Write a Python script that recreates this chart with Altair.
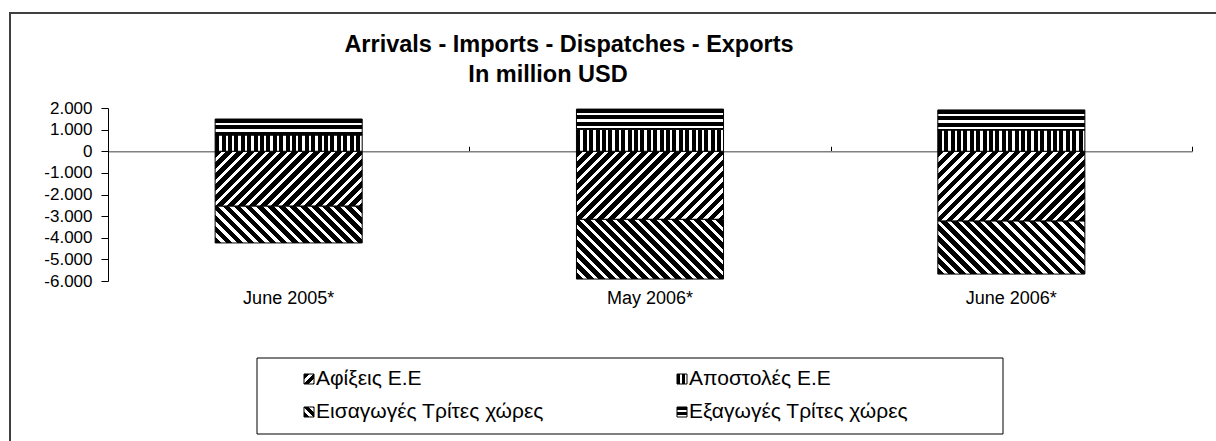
import math
import altair as alt
import pandas as pd

# ---------------- data ----------------
categories = ["June 2005*", "May 2006*", "June 2006*"]
series = ["Αφίξεις Ε.Ε", "Αποστολές  Ε.Ε", "Εισαγωγές Τρίτες χώρες", "Εξαγωγές Τρίτες χώρες"]
arrivals = [-2540, -3150, -3230]      # Αφίξεις Ε.Ε
dispatches = [750, 1010, 980]         # Αποστολές Ε.Ε
imports = [-1700, -2760, -2450]       # Εισαγωγές Τρίτες χώρες
exports = [740, 940, 930]             # Εξαγωγές Τρίτες χώρες
y_ticks = [-6000, -5000, -4000, -3000, -2000, -1000, 0, 1000, 2000]

# ---------------- layout / style ----------------
W, H = 1084, 173
PL, PT = 108, 108
Y_DOMAIN = [-6000, 2000]
BAND_FRAC = 0.407
FONT = "Liberation Sans"
px_per_unit = H / (Y_DOMAIN[1] - Y_DOMAIN[0])
bar_w = W / len(categories) * BAND_FRAC

rows = []
for i, c in enumerate(categories):
    rows.append(dict(cat=c, series=series[0], start=0, end=arrivals[i], kind="up"))
    rows.append(dict(cat=c, series=series[2], start=arrivals[i], end=arrivals[i] + imports[i], kind="down"))
    rows.append(dict(cat=c, series=series[1], start=0, end=dispatches[i], kind="v"))
    rows.append(dict(cat=c, series=series[3], start=dispatches[i], end=dispatches[i] + exports[i], kind="h"))
df = pd.DataFrame(rows)

kind_of = {series[0]: "up", series[1]: "v", series[2]: "down", series[3]: "h"}


def stripes(kind, w, h, period, frac=0.6):
    c = (w + h) / (w * w + h * h)
    if kind == "v":
        x1, y1, x2, y2, L = 0, 0, 1, 0, w
    elif kind == "h":
        x1, y1, x2, y2, L = 0, 0, 0, 1, h
    elif kind == "up":
        x1, y1, x2, y2, L = 0, 0, c * w, c * h, (w + h) / math.sqrt(2)
    else:
        x1, y1, x2, y2, L = 0, 1, c * w, 1 - c * h, (w + h) / math.sqrt(2)
    stops = []
    pos = 0.0
    while pos < L - 1e-6:
        a = pos / L
        b = min((pos + frac * period) / L, 1)
        e = min((pos + period) / L, 1)
        stops += [alt.GradientStop(offset=a, color="#000000"),
                  alt.GradientStop(offset=b, color="#000000"),
                  alt.GradientStop(offset=b, color="#ffffff"),
                  alt.GradientStop(offset=e, color="#ffffff")]
        pos += period
    return alt.LinearGradient(gradient="linear", stops=stops, x1=x1, y1=y1, x2=x2, y2=y2)


PERIOD = {"up": 7.8, "down": 7.8, "v": 6.4, "h": 6.4}
FRAC = {"up": 0.6, "down": 0.6, "v": 0.62, "h": 0.62}

x_scale = alt.Scale(domain=categories, paddingInner=0, paddingOuter=0)
y_enc = alt.Y(
    "start:Q",
    scale=alt.Scale(domain=Y_DOMAIN, nice=False),
    title=None,
    axis=alt.Axis(values=y_ticks, grid=False, domainColor="#000000", tickColor="#000000",
                  tickSize=7, labelPadding=9, labelFont=FONT, labelFontSize=17,
                  labelColor="#000000",
                  labelExpr="datum.value == 0 ? '0' : (datum.value < 0 ? '-' : '') + format(abs(datum.value) / 1000, 'd') + '.000'"),
)

layers = []
for _, r in df.iterrows():
    seg_h = abs(r["end"] - r["start"]) * px_per_unit
    grad = stripes(r["kind"], bar_w, seg_h, PERIOD[r["kind"]], FRAC[r["kind"]])
    sub = df[(df["cat"] == r["cat"]) & (df["series"] == r["series"])]
    layers.append(
        alt.Chart(sub).mark_bar(width=alt.RelativeBandSize(BAND_FRAC), fill=grad,
                                stroke="#000000", strokeWidth=1)
        .encode(x=alt.X("cat:N", scale=x_scale, axis=None), y=y_enc, y2="end:Q")
    )

cat_df = pd.DataFrame({"cat": categories})
# bottom category labels
labels_layer = alt.Chart(cat_df).mark_point(opacity=0).encode(
    x=alt.X("cat:N", scale=x_scale, title=None,
            axis=alt.Axis(orient="bottom", domain=False, ticks=False, labelPadding=8,
                          labelFont=FONT, labelFontSize=18, labelColor="#000000", labelAngle=0))
)
# zero line with category boundary ticks
zero_layer = alt.Chart(cat_df).mark_point(opacity=0).encode(
    x=alt.X("cat:N", scale=x_scale, title=None,
            axis=alt.Axis(orient="top", offset=-(Y_DOMAIN[1] * px_per_unit), labels=False,
                          tickBand="extent", tickSize=5, tickColor="#000000",
                          domainColor="#808080", domainWidth=1.3, grid=False))
)

# title
t1 = alt.Chart(pd.DataFrame({"t": ["Arrivals - Imports - Dispatches - Exports"]})).mark_text(
    font=FONT, fontSize=23.5, fontWeight="bold", align="center", baseline="middle", color="#000000"
).encode(x=alt.value(569 - PL), y=alt.value(45 - PT), text="t:N")
t2 = alt.Chart(pd.DataFrame({"t": ["In million USD"]})).mark_text(
    font=FONT, fontSize=23.5, fontWeight="bold", align="center", baseline="middle", color="#000000"
).encode(x=alt.value(548 - PL), y=alt.value(75 - PT), text="t:N")

# outer frame & legend box
frame = alt.Chart(pd.DataFrame({"a": [0]})).mark_rect(fill=None, stroke="#404040", strokeWidth=2).encode(
    x=alt.value(10 - PL), x2=alt.value(1216 - PL + 20), y=alt.value(13 - PT), y2=alt.value(441 - PT + 20))
legend_box = alt.Chart(pd.DataFrame({"a": [0]})).mark_rect(fill=None, stroke="#000000", strokeWidth=1).encode(
    x=alt.value(257 - PL), x2=alt.value(1003 - PL), y=alt.value(358 - PT), y2=alt.value(434 - PT))

legend_layers = []
leg_pos = {series[0]: (304, 379), series[1]: (677, 379), series[2]: (304, 412), series[3]: (677, 412)}
for s in series:
    sx, sy = leg_pos[s]
    k = kind_of[s]
    g = stripes(k, 10, 10, 5.0 if k in ("v", "h") else 6.5, 0.6)
    legend_layers.append(
        alt.Chart(pd.DataFrame({"a": [0]})).mark_rect(fill=g, stroke="#000000", strokeWidth=1).encode(
            x=alt.value(sx - PL), x2=alt.value(sx + 10 - PL), y=alt.value(sy - 5 - PT), y2=alt.value(sy + 5 - PT))
    )
    legend_layers.append(
        alt.Chart(pd.DataFrame({"t": [s]})).mark_text(
            font=FONT, fontSize=21, align="left", baseline="middle", color="#000000"
        ).encode(x=alt.value(sx + 12 - PL), y=alt.value(sy - PT), text="t:N")
    )

chart = alt.layer(frame, zero_layer, labels_layer, *layers, t1, t2, legend_box, *legend_layers).resolve_axis(
    x="independent"
).properties(
    width=W, height=H,
    autosize=alt.AutoSizeParams(type="none"),
    padding={"left": PL, "top": PT, "right": 1216 - PL - W, "bottom": 441 - PT - H},
    background="#ffffff",
).configure_view(stroke=None)

chart.save("out.html", embed_options={"renderer": "svg", "actions": False})
